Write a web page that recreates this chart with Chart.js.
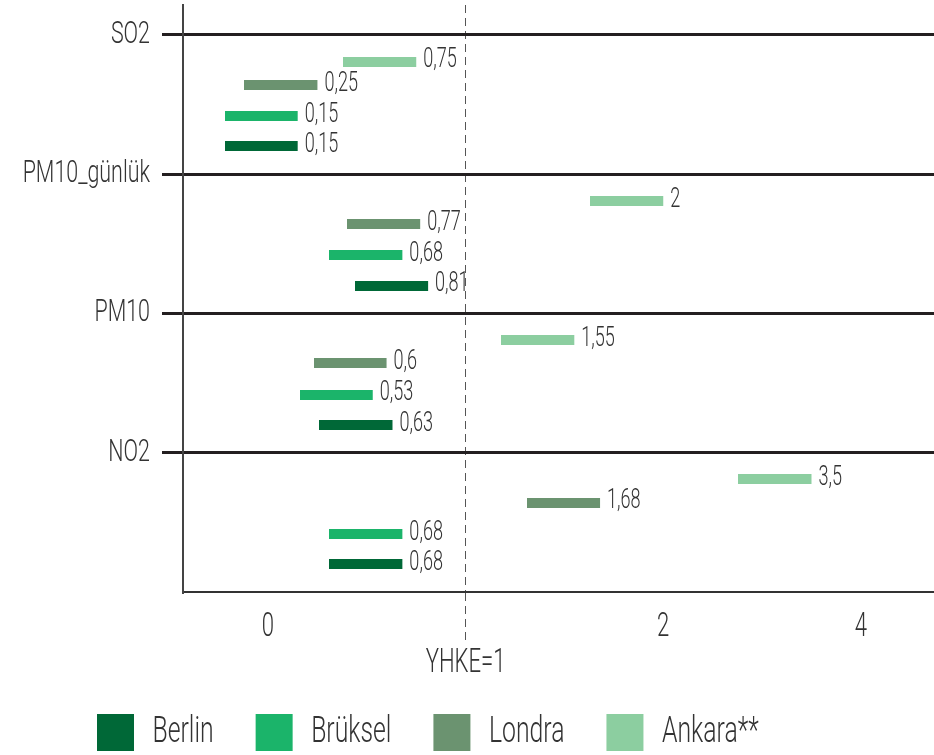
<!DOCTYPE html>
<html lang="tr">
<head>
<meta charset="utf-8">
<title>YHKE oranları – Berlin, Brüksel, Londra, Ankara</title>
<script src="https://cdn.jsdelivr.net/npm/chart.js@4.4.1/dist/chart.umd.min.js"></script>
<style>
  html, body { margin: 0; padding: 0; background: #fff; }
  #wrap { width: 934px; height: 755px; }
</style>
</head>
<body>
<div id="wrap"><canvas id="chart" width="934" height="755"></canvas></div>
<script>
// ---- data -------------------------------------------------------------
const pollutants = ['SO2', 'PM10_günlük', 'PM10', 'NO2'];
const cities     = ['Berlin', 'Brüksel', 'Londra', 'Ankara**'];
const berlin  = [0.15, 0.81, 0.63, 0.68];
const bruksel = [0.15, 0.68, 0.53, 0.68];
const londra  = [0.25, 0.77, 0.60, 1.68];
const ankara  = [0.75, 2.00, 1.55, 3.50];
const xTickValues = [0, 1, 2, 4];
const limitValue = 1;
const limitLabel = 'YHKE=1';

// ---- style ------------------------------------------------------------
const FONT = 'Roboto, "DejaVu Sans Condensed", sans-serif';
const WEIGHT = 300;
const CONDENSE = 0.67;          // horizontal squeeze applied to all text
const TEXT = '#333333';
const colors = ['#006837', '#1bb46a', '#6b9370', '#8ccea0'];
// vertical slot of each city inside a pollutant band (fraction of a band)
const slots = [0.80, 0.582, 0.359, 0.192];
const SEG_LEN = 73;   // drawn length of a segment, px
const SEG_H = 10;     // thickness of a segment, px

// ---- condensed text on the chart canvas -------------------------------
const canvas = document.getElementById('chart');
const ctx2d = canvas.getContext('2d');
const rawFillText = ctx2d.fillText.bind(ctx2d);
const rawMeasureText = ctx2d.measureText.bind(ctx2d);
ctx2d.fillText = function (text, x, y, maxWidth) {
  this.save();
  this.translate(x, y);
  this.scale(CONDENSE, 1);
  if (maxWidth === undefined) rawFillText(text, 0, 0);
  else rawFillText(text, 0, 0, maxWidth / CONDENSE);
  this.restore();
};
ctx2d.measureText = function (text) {
  const m = rawMeasureText(text);
  return {
    width: m.width * CONDENSE,
    actualBoundingBoxLeft: m.actualBoundingBoxLeft * CONDENSE,
    actualBoundingBoxRight: m.actualBoundingBoxRight * CONDENSE,
    actualBoundingBoxAscent: m.actualBoundingBoxAscent,
    actualBoundingBoxDescent: m.actualBoundingBoxDescent,
    fontBoundingBoxAscent: m.fontBoundingBoxAscent,
    fontBoundingBoxDescent: m.fontBoundingBoxDescent
  };
};

// ---- axis with equally spaced breakpoints 0,1,2,4 ---------------------
const BREAKS = xTickValues;
class BrokenLinearScale extends Chart.LinearScale {
  static id = 'brokenLinear';
  toUnits(v) {
    const b = BREAKS, n = b.length - 1;
    let i = 0;
    while (i < n - 1 && v > b[i + 1]) i++;
    return i + (v - b[i]) / (b[i + 1] - b[i]);
  }
  fromUnits(u) {
    const b = BREAKS, n = b.length - 1;
    const i = Math.max(0, Math.min(n - 1, Math.floor(u)));
    return b[i] + (u - i) * (b[i + 1] - b[i]);
  }
  getPixelForValue(value) {
    if (value === null || value === undefined || isNaN(value)) return NaN;
    const a = this.toUnits(this.min), z = this.toUnits(this.max);
    return this.getPixelForDecimal((this.toUnits(value) - a) / (z - a));
  }
  getValueForPixel(pixel) {
    const a = this.toUnits(this.min), z = this.toUnits(this.max);
    return this.fromUnits(a + this.getDecimalForPixel(pixel) * (z - a));
  }
}
Chart.register(BrokenLinearScale);

// segment marker: bar on the left half so its right end sits on the value
function segmentImage(color) {
  const c = document.createElement('canvas');
  c.width = SEG_LEN * 2;
  c.height = SEG_H;
  const g = c.getContext('2d');
  g.fillStyle = color;
  g.fillRect(0, 0, SEG_LEN, SEG_H);
  return c;
}

const fmt = v => String(v).replace('.', ',');

const series = [berlin, bruksel, londra, ankara];
const datasets = series.map((vals, i) => ({
  label: cities[i],
  data: vals.map((v, j) => ({ x: v, y: j + slots[i] })),
  backgroundColor: colors[i],
  borderColor: colors[i],
  borderWidth: 0,
  pointStyle: segmentImage(colors[i]),
  pointRadius: 6,
  showLine: false
}));

const valueLabels = {
  id: 'valueLabels',
  afterDatasetsDraw(chart) {
    const ctx = chart.ctx;
    ctx.save();
    ctx.font = `${WEIGHT} 27px ${FONT}`;
    ctx.fillStyle = TEXT;
    ctx.textAlign = 'left';
    ctx.textBaseline = 'middle';
    chart.data.datasets.forEach((ds, i) => {
      chart.getDatasetMeta(i).data.forEach((pt, j) => {
        ctx.fillText(fmt(ds.data[j].x), pt.x + 7, pt.y - 1);
      });
    });
    ctx.restore();
  }
};

// place the legend row under the plot
const legendPlacement = {
  id: 'legendPlacement',
  afterLayout(chart) {
    const lg = chart.legend;
    if (!lg || !lg.lineWidths) return;
    const pad = lg.options.labels.padding;
    const start = (lg.left + pad + lg.right - lg.lineWidths[0]) / 2;
    const shift = 97 - start;
    lg.left += shift;
    lg.right += shift;
    lg.top = 714 - pad;
    lg.bottom = chart.height;
    lg.height = lg.bottom - lg.top;
  }
};

const isLimit = c => c.tick && c.tick.value === limitValue;

new Chart(canvas, {
  type: 'scatter',
  data: { datasets },
  plugins: [valueLabels, legendPlacement],
  options: {
    responsive: false,
    animation: false,
    events: [],
    layout: { autoPadding: false, padding: { top: 5, left: 0, right: 0, bottom: 0 } },
    plugins: {
      tooltip: { enabled: false },
      legend: {
        position: 'bottom',
        maxHeight: 68,
        labels: {
          boxWidth: 37,
          boxHeight: 37,
          padding: 42,
          color: TEXT,
          font: { family: FONT, size: 37, weight: WEIGHT }
        }
      }
    },
    scales: {
      x: {
        type: 'brokenLinear',
        min: -0.43,
        max: 4.74,
        afterBuildTicks: s => { s.ticks = xTickValues.map(v => ({ value: v })); },
        afterFit: s => {
          s.height = 95;
          s.paddingLeft = 0;
          s.paddingRight = 0;
        },
        ticks: {
          autoSkip: false,
          maxRotation: 0,
          padding: -30,
          color: TEXT,
          font: { family: FONT, size: 33, weight: WEIGHT, lineHeight: 1.09 },
          callback: v => (v === limitValue ? ['', limitLabel] : String(v))
        },
        grid: {
          color: c => (isLimit(c) ? '#555555' : 'rgba(0,0,0,0)'),
          lineWidth: 1,
          drawTicks: true,
          tickLength: 48,
          tickWidth: 1,
          tickColor: c => (isLimit(c) ? '#555555' : 'rgba(0,0,0,0)'),
          tickBorderDash: [8, 5]
        },
        border: {
          display: true,
          color: '#333333',
          width: 2,
          dash: c => (isLimit(c) ? [8, 5] : [])
        }
      },
      y: {
        type: 'linear',
        reverse: true,
        min: -0.215,
        max: 4,
        afterBuildTicks: s => { s.ticks = pollutants.map((_, i) => ({ value: i })); },
        afterFit: s => {
          s.width = 183;
          s.paddingTop = 0;
          s.paddingBottom = 0;
        },
        ticks: {
          autoSkip: false,
          padding: 12,
          color: TEXT,
          font: { family: FONT, size: 32, weight: WEIGHT },
          callback: v => pollutants[v]
        },
        grid: {
          color: '#231f20',
          lineWidth: 3,
          drawTicks: true,
          tickLength: 21
        },
        border: { display: true, color: '#444444', width: 2 }
      }
    }
  }
});
</script>
</body>
</html>
